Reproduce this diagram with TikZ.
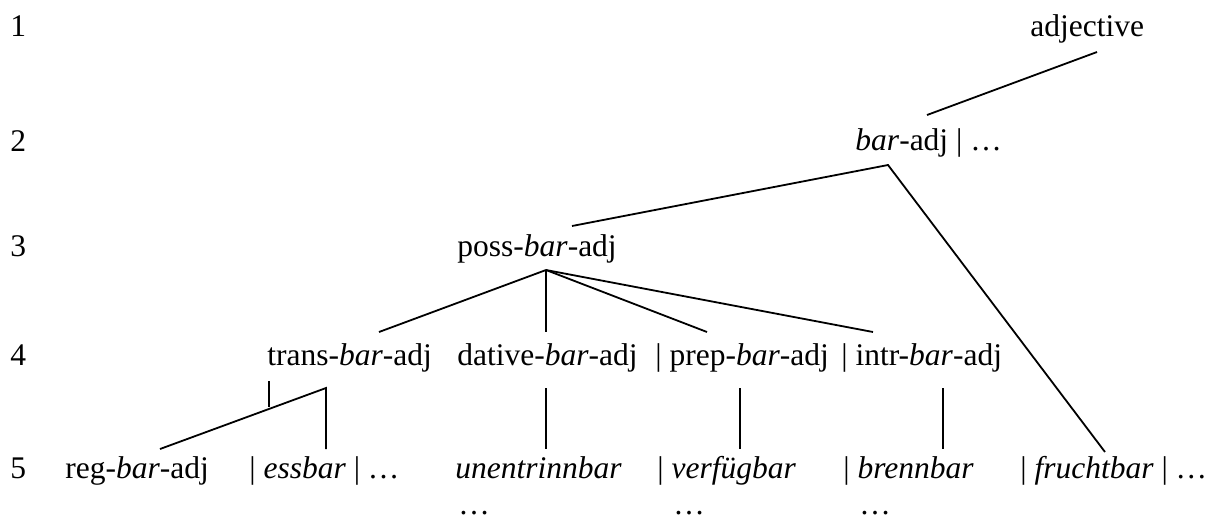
\documentclass[tikz,border=0pt]{standalone}
\usepackage{fontspec}
\setmainfont{Liberation Serif}
\usetikzlibrary{calc}
\begin{document}
\begin{tikzpicture}[x=0.5pt,y=-0.5pt,
  lbl/.style={inner sep=0pt,anchor=base west,font=\fontsize{15.75}{18}\selectfont},
  edge/.style={line width=0.9pt,line cap=butt}]
\useasboundingbox (0,0) rectangle (1213,521);

% level numbers
\node[lbl] (n1) at (10,36)  {1};
\node[lbl] (n2) at (10,151) {2};
\node[lbl] (n3) at (10,256) {3};
\node[lbl] (n4) at (10,365) {4};
\node[lbl] (n5) at (10,478) {5};

% levels 1-3
\node[lbl] (adj)  at (1030,36)  {adjective};
\node[lbl] (bar)  at (855,150)  {\textit{bar}-adj | …};
\node[lbl] (poss) at (457,256)  {poss-\textit{bar}-adj};

% level 4
\node[lbl] (trans)  at (267,365) {trans-\textit{bar}-adj};
\node[lbl] (dative) at (457,365) {dative-\textit{bar}-adj};
\node[lbl] (prep)   at (655,365) {| prep-\textit{bar}-adj};
\node[lbl] (intr)   at (841,365) {| intr-\textit{bar}-adj};

% level 5
\node[lbl] (reg)    at (65,478)   {reg-\textit{bar}-adj};
\node[lbl] (ess)    at (249,478)  {| \textit{essbar} | …};
\node[lbl] (unent)  at (455,478)  {\textit{unentrinnbar}};
\node[lbl] (verf)   at (657,478)  {| \textit{verfügbar}};
\node[lbl] (brenn)  at (843,478)  {| \textit{brennbar}};
\node[lbl] (frucht) at (1020,478) {| \textit{fruchtbar} | …};

\node[lbl] (d1) at (458,514) {…};
\node[lbl] (d2) at (673,514) {…};
\node[lbl] (d3) at (859,514) {…};

% branches
\draw[edge] ($(adj.base west)+(67,16)$) -- ($(bar.base west)+(72,-35)$);
\draw[edge] ($(poss.base west)+(115,-30)$) -- ($(bar.base west)+(33,15)$)
            -- ($(frucht.base west)+(85,-26)$);

\coordinate (pv) at ($(poss.base west)+(89,14)$);
\draw[edge] (pv) -- ($(trans.base west)+(112,-33)$);
\draw[edge] (pv) -- ($(dative.base west)+(89,-33)$);
\draw[edge] (pv) -- ($(prep.base west)+(52,-33)$);
\draw[edge] (pv) -- ($(intr.base west)+(32,-33)$);

\draw[edge] ($(trans.base west)+(2,16)$) -- ($(trans.base west)+(2,42)$);
\draw[edge] ($(reg.base west)+(95,-29)$) -- ($(trans.base west)+(59,23)$)
            -- ($(ess.base west)+(77,-29)$);

\draw[edge] ($(dative.base west)+(89,23)$) -- ($(unent.base west)+(91,-29)$);
\draw[edge] ($(prep.base west)+(85,23)$) -- ($(verf.base west)+(83,-29)$);
\draw[edge] ($(intr.base west)+(102,23)$) -- ($(brenn.base west)+(100,-29)$);
\end{tikzpicture}
\end{document}
